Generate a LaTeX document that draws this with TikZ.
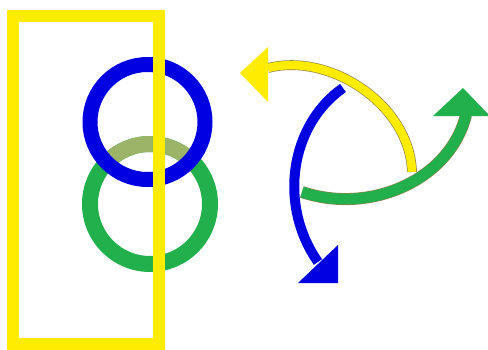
\documentclass[tikz,border=0pt]{standalone}
\begin{document}
\begin{tikzpicture}[x=1pt,y=-1pt,
  ylw/.style={draw=ylwC},
  ring/.style={line width=#1},
  arc/.style={line width=8.5},
  arcedge/.style={line width=9.8, draw=edgeC}]
\definecolor{ylwC}{RGB}{255,236,0}
\definecolor{bluC}{RGB}{0,0,225}
\definecolor{grnC}{RGB}{34,176,76}
\definecolor{oliC}{RGB}{156,180,104}
\definecolor{edgeC}{RGB}{140,128,70}
\useasboundingbox (0,0) rectangle (488,349);
\fill[white] (0,0) rectangle (488,349);
% green ring
\draw[grnC, ring=16] (150,204) circle[radius=60];
% olive part of green ring inside blue circle
\begin{scope}
  \clip (147.5,122) circle[radius=57];
  \draw[oliC, ring=16] (150,204) circle[radius=60];
\end{scope}
% blue ring
\draw[bluC, ring=15] (147.5,122) circle[radius=57.5];
% yellow frame
\draw[ylw, line width=12] (13,16) rectangle (159,344);
% yellow arrow
\coordinate (ys) at (412,172);
\coordinate (ye) at (268,68);
\draw[arcedge] (ys) .. controls (410,105) and (330,52) .. (ye);
\draw[arc, ylwC] (ys) .. controls (410,105) and (330,52) .. (ye);
\fill[ylwC] (268,47) -- (240,73) -- (268,102) -- cycle;
% blue arrow
\coordinate (bs) at (343,88);
\coordinate (be) at (318,262);
\draw[arc, bluC, line width=10] (bs) .. controls (290,125) and (278,205) .. (be);
\fill[bluC] (338,245) -- (338,283) -- (298,283) -- cycle;
% green arrow
\coordinate (gs) at (302,192);
\coordinate (ge) at (466,115);
\draw[arcedge, line width=12] (gs) .. controls (370,215) and (450,180) .. (ge);
\draw[arc, grnC, line width=10.8] (gs) .. controls (370,215) and (450,180) .. (ge);
\fill[grnC] (433,116) -- (463,88) -- (490,116) -- cycle;
\end{tikzpicture}
\end{document}
